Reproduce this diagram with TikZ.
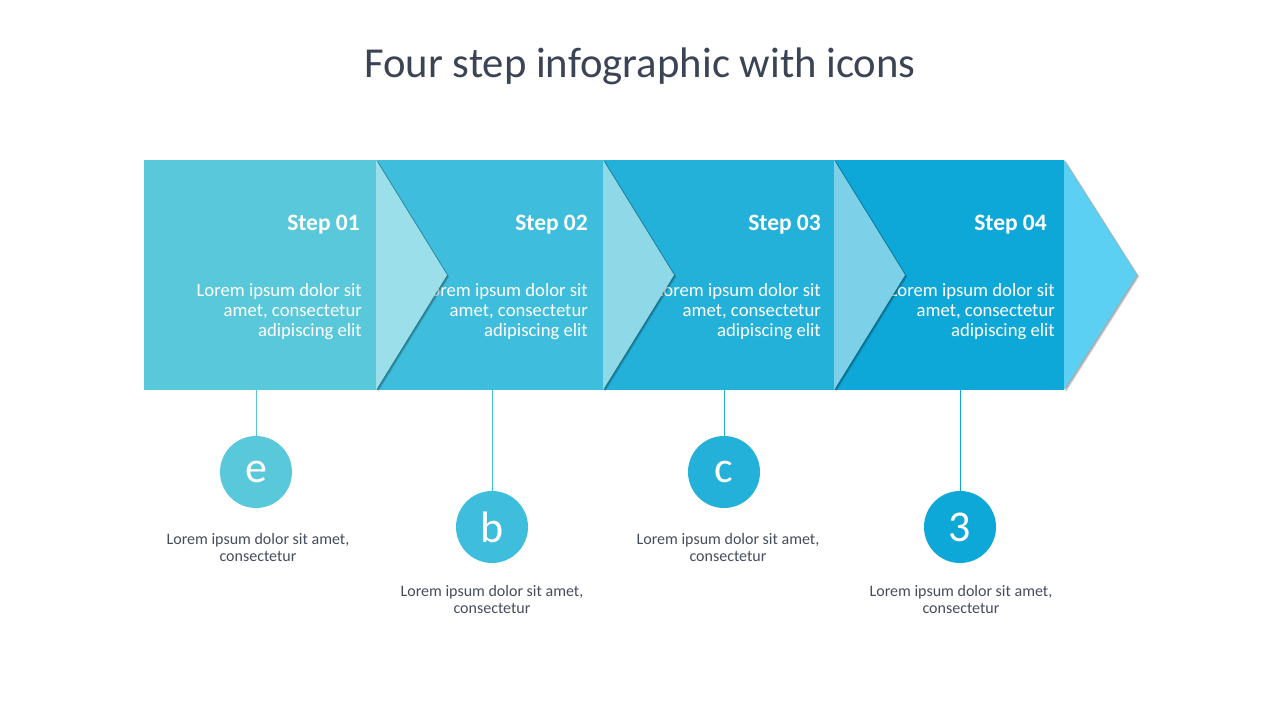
\documentclass[tikz,border=0pt]{standalone}
\usepackage{fontspec}
\setmainfont{Carlito}
\definecolor{rA}{HTML}{59C8DB}
\definecolor{rB}{HTML}{3EBEDC}
\definecolor{rC}{HTML}{23B1DA}
\definecolor{rD}{HTML}{0EA8D8}
\definecolor{tA}{HTML}{9ADFEA}
\definecolor{tB}{HTML}{8ED8E8}
\definecolor{tC}{HTML}{7CD0E8}
\definecolor{tD}{HTML}{5BD0F3}
\definecolor{titlegray}{HTML}{3B4454}
\definecolor{capgray}{HTML}{454C5C}
\begin{document}
\begin{tikzpicture}[x=1pt,y=-1pt,
  panel/.style={rectangle, draw=none, inner sep=0, outer sep=0, minimum height=230pt},
  steptitle/.style={text=white, font=\fontsize{23.5}{28}\selectfont\bfseries, anchor=base east, inner sep=0},
  bodyline/.style={text=white, font=\fontsize{18.7}{20}\selectfont, anchor=base east, inner sep=0},
  capline/.style={text=capgray, font=\fontsize{16}{17}\selectfont, anchor=base, inner sep=0},
  icon/.style={circle, minimum size=72pt, inner sep=0, text=white, font=\fontsize{44}{44}\selectfont},
  tipshadow/.style={fill=black, opacity=0.18},
  stem/.style={line width=0.9pt}
]
\useasboundingbox (0,0) rectangle (1280,720);

% title
\node[text=titlegray, font=\fontsize{42.7}{48}\selectfont, anchor=base, inner sep=0] (title) at (640,77) {Four step infographic with icons};

% panels
\node[panel, fill=rA, minimum width=232pt] (r1) at (260,275) {};
\node[panel, fill=rB, minimum width=227pt] (r2) at (489.5,275) {};
\node[panel, fill=rC, minimum width=231pt] (r3) at (718.5,275) {};
\node[panel, fill=rD, minimum width=230pt] (r4) at (949,275) {};

% texts in panels
\node[steptitle] (s1) at (360,230) {Step 01};
\node[steptitle] (s2) at (588,230) {Step 02};
\node[steptitle] (s3) at (821,230) {Step 03};
\node[steptitle] (s4) at (1047,230) {Step 04};

\foreach \n/\xx in {1/362,2/588,3/821,4/1055}{
  \node[bodyline] (b\n a) at (\xx,296) {Lorem ipsum dolor sit};
  \node[bodyline] (b\n b) at (\xx,316) {amet, consectetur};
  \node[bodyline] (b\n c) at (\xx,336) {adipiscing elit};
}

% arrow tips with soft shadows
\foreach \lx/\tx/\col in {376/447/tA,603/674/tB,834/905/tC,1064/1137/tD}{
  \fill[tipshadow, shift={(2.2,1.6)}] (\lx,160) -- (\tx,275) -- (\lx,390) -- cycle;
  \fill[tipshadow, shift={(1.2,0.9)}] (\lx,160) -- (\tx,275) -- (\lx,390) -- cycle;
  \fill[\col] (\lx,160) -- (\tx,275) -- (\lx,390) -- cycle;
}

% icon circles
\node[icon, fill=rA] (c1) at (256,472) {e};
\node[icon, fill=rB] (c2) at (492,527) {b};
\node[icon, fill=rC] (c3) at (724,472) {c};
\node[icon, fill=rD] (c4) at (960,527) {3};

% stems
\draw[stem, rA] (c1 |- r1.south) -- (c1.north);
\draw[stem, rB] (c2 |- r2.south) -- (c2.north);
\draw[stem, rC] (c3 |- r3.south) -- (c3.north);
\draw[stem, rD] (c4 |- r4.south) -- (c4.north);

% captions
\node[capline] (k1a) at (258,544) {Lorem ipsum dolor sit amet,};
\node[capline] (k1b) at (258,561) {consectetur};
\node[capline] (k2a) at (492,596) {Lorem ipsum dolor sit amet,};
\node[capline] (k2b) at (492,613) {consectetur};
\node[capline] (k3a) at (728,544) {Lorem ipsum dolor sit amet,};
\node[capline] (k3b) at (728,561) {consectetur};
\node[capline] (k4a) at (961,596) {Lorem ipsum dolor sit amet,};
\node[capline] (k4b) at (961,613) {consectetur};
\end{tikzpicture}
\end{document}
